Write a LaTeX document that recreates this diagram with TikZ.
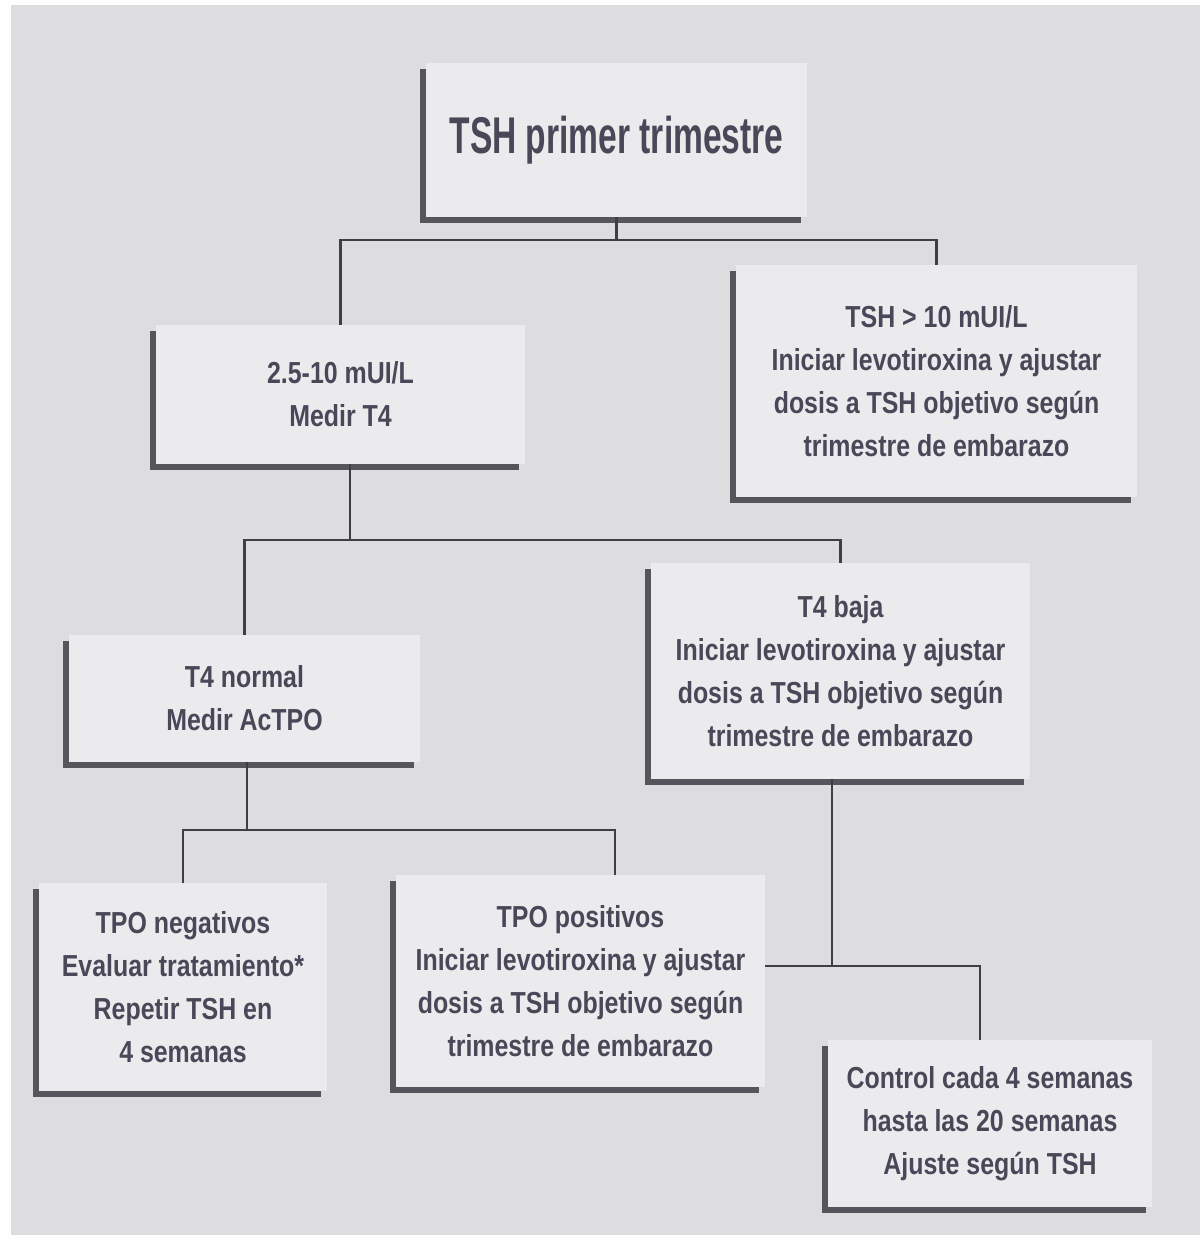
\documentclass[tikz,border=0pt]{standalone}
\usepackage{fontspec}
\setmainfont{Liberation Sans}[FakeStretch=0.82]
\newfontfamily\titulofont{Liberation Sans}[FakeStretch=0.65]
\usepackage{tikz}
\usetikzlibrary{shadows,calc}

\definecolor{fondogris}{HTML}{DDDDE0}
\definecolor{cajagris}{HTML}{EBEBEE}
\definecolor{sombragris}{HTML}{55555B}
\definecolor{textogris}{HTML}{4A4858}
\definecolor{lineagris}{HTML}{3E3E46}

\tikzset{
  caja/.style={fill=cajagris, text=textogris, align=center, inner sep=0pt,
    font=\fontsize{17.3}{24.4}\selectfont\bfseries,
    drop shadow={shadow xshift=-3.4pt, shadow yshift=-3.4pt, fill=sombragris, opacity=1}},
  linea/.style={draw=lineagris, line width=1.5pt}
}

\begin{document}
\begin{tikzpicture}[x=0.02cm, y=-0.02cm]

    % Page and background
    \useasboundingbox (0,0) rectangle (1200,1235);
    \fill[fondogris] (11,5) rectangle (1200,1235);

    % First row
    \node[caja, minimum width=7.62cm, minimum height=3.08cm,
          font=\fontsize{29.4}{34}\selectfont\titulofont\bfseries] (top) at (616.5,140)
        {TSH primer trimestre};

    % Second row
    \node[caja, minimum width=7.38cm, minimum height=2.78cm] (rango) at (340.5,394.5)
        {2.5-10 mUI/L\\Medir T4};
    \node[caja, minimum width=8.02cm, minimum height=4.64cm] (alta) at (936.5,381)
        {TSH > 10 mUI/L\\Iniciar levotiroxina y ajustar\\dosis a TSH objetivo según\\trimestre de embarazo};

    % Third row
    \node[caja, minimum width=7.02cm, minimum height=2.54cm] (normal) at (244.5,698.5)
        {T4 normal\\Medir AcTPO};
    \node[caja, minimum width=7.58cm, minimum height=4.32cm] (baja) at (840.5,671)
        {T4 baja\\Iniciar levotiroxina y ajustar\\dosis a TSH objetivo según\\trimestre de embarazo};

    % Fourth row
    \node[caja, minimum width=5.76cm, minimum height=4.16cm] (neg) at (183,987)
        {TPO negativos\\Evaluar tratamiento*\\Repetir TSH en\\4 semanas};
    \node[caja, minimum width=7.38cm, minimum height=4.24cm] (pos) at (580.5,981)
        {TPO positivos\\Iniciar levotiroxina y ajustar\\dosis a TSH objetivo según\\trimestre de embarazo};
    \node[caja, minimum width=6.48cm, minimum height=3.34cm] (control) at (990,1123.5)
        {Control cada 4 semanas\\hasta las 20 semanas\\Ajuste según TSH};

    % Junctions
    \coordinate (j1) at (617,240);
    \coordinate (j2) at (350,540);
    \coordinate (j3) at (247,830);
    \coordinate (k3) at (615,830);
    \coordinate (j4) at (832,966);
    \coordinate (k4) at (980,966);

    % Connectors
    \draw[linea] (top.south) -- (top.south |- j1);
    \draw[linea] (rango.north) |- (j1) -| (alta.north);

    \draw[linea] (rango.south -| j2) -- (j2);
    \draw[linea] (normal.north) |- (j2) -| (baja.north);

    \draw[linea] (normal.south -| j3) -- (j3);
    \draw[linea] (neg.north) |- (k3) -- (k3 |- pos.north);

    \draw[linea] (baja.south -| j4) -- (j4);
    \draw[linea] (pos.east |- j4) -- (k4) -- (k4 |- control.north);

\end{tikzpicture}
\end{document}
